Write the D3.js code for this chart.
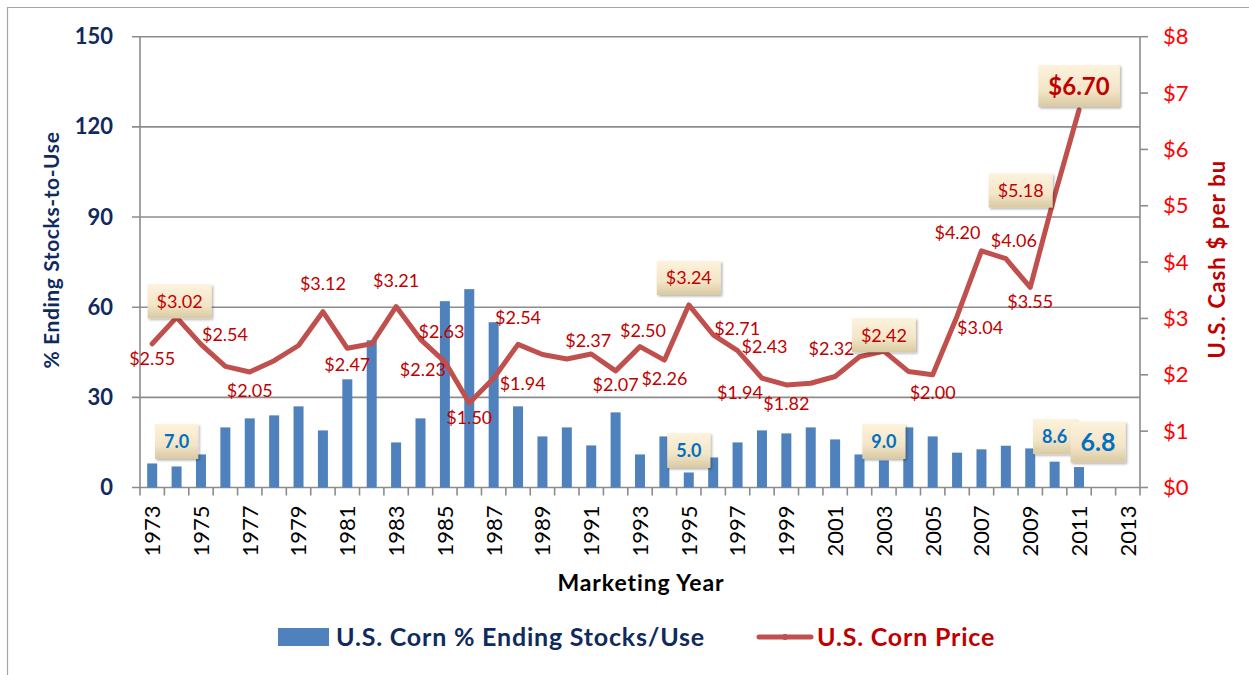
<!DOCTYPE html>
<html>
<head>
<meta charset="utf-8">
<script src="https://cdn.jsdelivr.net/npm/d3@7/dist/d3.min.js"></script>
<style>
  body { margin: 0; background: #fff; }
  svg { font-family: Lato, "Open Sans", sans-serif; }
</style>
</head>
<body>
<div id="chart"></div>
<script>
// categories: marketing years shown on the axis
var years = [1973,1974,1975,1976,1977,1978,1979,1980,1981,1982,1983,1984,1985,1986,1987,
             1988,1989,1990,1991,1992,1993,1994,1995,1996,1997,1998,1999,2000,2001,2002,
             2003,2004,2005,2006,2007,2008,2009,2010,2011,2012,2013];

// years that actually have data
var dataYears = [1973,1974,1975,1976,1977,1978,1979,1980,1981,1982,1983,1984,1985,1986,1987,
                 1988,1989,1990,1991,1992,1993,1994,1995,1996,1997,1998,1999,2000,2001,2002,
                 2003,2004,2005,2006,2007,2008,2009,2010,2011];

// % ending stocks-to-use (bars, left axis)
var stocksToUse = [8,7,11,20,23,24,27,19,36,49,15,23,62,66,55,
                   27,17,20,14,25,11,17,5,10,15,19,18,20,16,11,
                   9,20,17,11.6,12.7,13.9,13,8.6,6.8];

// corn price $/bu (line, right axis)
var cornPrice = [2.55,3.02,2.54,2.15,2.05,2.25,2.52,3.12,2.47,2.55,3.21,2.63,2.23,1.50,1.94,
                 2.54,2.36,2.28,2.37,2.07,2.50,2.26,3.24,2.71,2.43,1.94,1.82,1.85,1.97,2.32,
                 2.42,2.06,2.00,3.04,4.20,4.06,3.55,5.18,6.70];

var leftTicks = [0,30,60,90,120,150];
var rightTicks = [0,1,2,3,4,5,6,7,8];
var xTickYears = [1973,1975,1977,1979,1981,1983,1985,1987,1989,1991,1993,1995,1997,1999,
                  2001,2003,2005,2007,2009,2011,2013];

// which points get a price label, and where the label sits relative to the point
var priceLabelYears = [1973,1974,1975,1977,1980,1981,1983,1984,1985,1986,1987,1988,1991,1992,
                       1993,1994,1995,1996,1997,1998,1999,2002,2003,2005,2006,2007,2008,2009,2010,2011];
var priceLabelDx = [0,3,24,0,0,0,0,21,-22,0,29,0,-3,0,3,0,0,24,27,-22,0,-28,0,0,23,-24,8,0,-34,0];
var priceLabelDy = [15,-16,-10,19,-28,16,-26,-8,8,15,5,-27,-13,14,-16,18,-27,-6,-4,14,19,-8,-16,18,11,-18,-18,14,-5,-24];
var priceBoxed = [1974,1995,2003,2010,2011];

var stockLabelYears = [1974,1995,2003,2010,2011];
var stockLabelDx = [0,0,0,0,19];
var stockLabelDy = [-25,-22,-19,-25,-25];

var W = 1249, H = 675;
var plot = {left: 140, right: 1140, top: 36.7, bottom: 487.5};

var svg = d3.select("#chart").append("svg")
    .attr("width", W)
    .attr("height", H);

var defs = svg.append("defs");
var grad = defs.append("linearGradient")
    .attr("id", "boxgrad").attr("x1", 0).attr("y1", 0).attr("x2", 0).attr("y2", 1);
grad.append("stop").attr("offset", "0%").attr("stop-color", "#fdf2dd");
grad.append("stop").attr("offset", "60%").attr("stop-color", "#f3e5c6");
grad.append("stop").attr("offset", "100%").attr("stop-color", "#d9c9a3");
var shadow = defs.append("filter").attr("id", "shadow")
    .attr("x", "-20%").attr("y", "-20%").attr("width", "150%").attr("height", "150%");
shadow.append("feDropShadow")
    .attr("dx", 1.5).attr("dy", 1.5).attr("stdDeviation", 1.2)
    .attr("flood-color", "#000").attr("flood-opacity", 0.3);

// outer chart border
svg.append("path")
    .attr("d", "M7.5," + H + "V7.5H" + W)
    .attr("fill", "none")
    .attr("stroke", "#a6a6a6")
    .attr("stroke-width", 1.2);

// scales
var x = d3.scaleBand()
    .domain(years)
    .range([plot.left, plot.right])
    .paddingInner(0.59)
    .paddingOuter(0.295);

var xCat = d3.scaleBand()
    .domain(years)
    .range([plot.left, plot.right])
    .padding(0);

var yLeft = d3.scaleLinear()
    .domain([0, 150])
    .range([plot.bottom, plot.top]);

var yRight = d3.scaleLinear()
    .domain([0, 8])
    .range([plot.bottom, plot.top]);

function cx(yr) { return x(yr) + x.bandwidth() / 2; }

// gridlines (left axis)
svg.append("g")
    .selectAll("line")
    .data(leftTicks)
    .enter().append("line")
    .attr("x1", plot.left - 8)
    .attr("x2", plot.right)
    .attr("y1", d => yLeft(d))
    .attr("y2", d => yLeft(d))
    .attr("stroke", "#8c8c8c")
    .attr("stroke-width", 1.6);

// bars
var stockData = dataYears.map((y, i) => ({year: y, value: stocksToUse[i]}));
svg.append("g")
    .selectAll("rect")
    .data(stockData)
    .enter().append("rect")
    .attr("x", d => x(d.year))
    .attr("width", x.bandwidth())
    .attr("y", d => yLeft(d.value))
    .attr("height", d => yLeft(0) - yLeft(d.value))
    .attr("fill", "#4f81bd");

// axis lines
svg.append("line")
    .attr("x1", plot.left).attr("x2", plot.left)
    .attr("y1", plot.top).attr("y2", plot.bottom)
    .attr("stroke", "#8c8c8c").attr("stroke-width", 1.6);
svg.append("line")
    .attr("x1", plot.right).attr("x2", plot.right)
    .attr("y1", plot.top).attr("y2", plot.bottom)
    .attr("stroke", "#8c8c8c").attr("stroke-width", 1.6);

// x tick marks at category boundaries
var boundaries = years.map(y => xCat(y)).concat([plot.right]);
svg.append("g")
    .selectAll("line")
    .data(boundaries)
    .enter().append("line")
    .attr("x1", d => d).attr("x2", d => d)
    .attr("y1", plot.bottom).attr("y2", plot.bottom + 8)
    .attr("stroke", "#8c8c8c").attr("stroke-width", 1.6);

// right tick marks
svg.append("g")
    .selectAll("line")
    .data(rightTicks)
    .enter().append("line")
    .attr("x1", plot.right).attr("x2", plot.right + 8)
    .attr("y1", d => yRight(d)).attr("y2", d => yRight(d))
    .attr("stroke", "#8c8c8c").attr("stroke-width", 1.6);

// left axis labels
var leftAxis = svg.append("g")
    .attr("transform", "translate(" + (plot.left - 24) + ",0)")
    .call(d3.axisLeft(yLeft).tickValues(leftTicks).tickSize(0));
leftAxis.select(".domain").remove();
leftAxis.selectAll("text")
    .attr("fill", "#0f2a5e")
    .style("font-size", "22px")
    .style("font-weight", "bold")
    .style("font-family", "Lato, sans-serif");

// right axis labels
var rightAxis = svg.append("g")
    .attr("transform", "translate(" + (plot.right + 20) + ",0)")
    .call(d3.axisRight(yRight).tickValues(rightTicks).tickSize(0).tickFormat(d => "$" + d));
rightAxis.select(".domain").remove();
rightAxis.selectAll("text")
    .attr("fill", "#ff0000")
    .style("font-size", "22px")
    .style("font-family", "Lato, sans-serif");

// x axis labels (odd years, rotated)
var xAxis = svg.append("g")
    .attr("transform", "translate(0," + plot.bottom + ")")
    .call(d3.axisBottom(x).tickValues(xTickYears).tickSize(0));
xAxis.select(".domain").remove();
xAxis.selectAll("text")
    .attr("fill", "#000")
    .style("font-size", "22px")
    .style("font-family", "Lato, sans-serif")
    .attr("text-anchor", "end")
    .attr("transform", "rotate(-90)")
    .attr("x", -18)
    .attr("y", 0)
    .attr("dy", "0.36em");

// axis titles
svg.append("text")
    .attr("transform", "translate(59,250) rotate(-90)")
    .attr("text-anchor", "middle")
    .attr("fill", "#0f2a5e")
    .style("font-size", "21px")
    .style("font-weight", "bold")
    .style("letter-spacing", "0.6px")
    .text("% Ending Stocks-to-Use");

svg.append("text")
    .attr("transform", "translate(1225,259) rotate(-90)")
    .attr("text-anchor", "middle")
    .attr("fill", "#c00000")
    .style("font-size", "22px")
    .style("font-weight", "bold")
    .style("letter-spacing", "1.2px")
    .text("U.S. Cash $ per bu");

svg.append("text")
    .attr("x", 641).attr("y", 591)
    .attr("text-anchor", "middle")
    .attr("fill", "#000")
    .style("font-size", "23px")
    .style("font-weight", "bold")
    .style("letter-spacing", "0.9px")
    .text("Marketing Year");

// price line
var priceData = dataYears.map((y, i) => ({year: y, value: cornPrice[i]}));
var line = d3.line()
    .x(d => cx(d.year))
    .y(d => yRight(d.value));

svg.append("path")
    .datum(priceData)
    .attr("d", line)
    .attr("fill", "none")
    .attr("stroke", "#c0504d")
    .attr("stroke-width", 5)
    .attr("stroke-linejoin", "round")
    .attr("stroke-linecap", "round");

// label helper: text with optional beige box behind
function addLabel(g, px, py, txt, opts) {
  var grp = g.append("g");
  var t = grp.append("text")
      .attr("x", px).attr("y", py)
      .attr("dy", "0.36em")
      .attr("text-anchor", "middle")
      .attr("fill", opts.color)
      .style("font-size", opts.size + "px")
      .style("font-weight", opts.bold ? "bold" : "normal")
      .text(txt);
  if (opts.box) {
    var bb = t.node().getBBox();
    grp.insert("rect", "text")
        .attr("x", bb.x - opts.padX)
        .attr("y", py - opts.boxH / 2)
        .attr("width", bb.width + 2 * opts.padX)
        .attr("height", opts.boxH)
        .attr("fill", "url(#boxgrad)")
        .attr("filter", "url(#shadow)");
  }
}

var labels = svg.append("g");

priceLabelYears.forEach(function(yr, i) {
  var idx = dataYears.indexOf(yr);
  var v = cornPrice[idx];
  var big = yr === 2011;
  addLabel(labels, cx(yr) + priceLabelDx[i], yRight(v) + priceLabelDy[i], "$" + v.toFixed(2), {
    color: "#c00000",
    size: big ? 24 : 18,
    bold: big,
    box: priceBoxed.indexOf(yr) >= 0,
    padX: big ? 10 : 9,
    boxH: big ? 42 : 34
  });
});

stockLabelYears.forEach(function(yr, i) {
  var idx = dataYears.indexOf(yr);
  var v = stocksToUse[idx];
  var big = yr === 2011;
  addLabel(labels, cx(yr) + stockLabelDx[i], yLeft(v) + stockLabelDy[i], v.toFixed(1), {
    color: "#0070c0",
    size: big ? 25 : 18,
    bold: true,
    box: true,
    padX: big ? 10 : 9,
    boxH: big ? 41 : 35
  });
});

// legend
var legend = svg.append("g");
legend.append("rect")
    .attr("x", 278).attr("y", 628)
    .attr("width", 51).attr("height", 18)
    .attr("fill", "#4f81bd");
legend.append("text")
    .attr("x", 336).attr("y", 637)
    .attr("dy", "0.36em")
    .attr("fill", "#0f2a5e")
    .style("font-size", "25px")
    .style("font-weight", "bold")
    .style("letter-spacing", "0.8px")
    .text("U.S. Corn % Ending Stocks/Use");
legend.append("line")
    .attr("x1", 759).attr("x2", 811)
    .attr("y1", 637).attr("y2", 637)
    .attr("stroke", "#c0504d")
    .attr("stroke-width", 5)
    .attr("stroke-linecap", "round");
legend.append("circle")
    .attr("cx", 785).attr("cy", 637).attr("r", 3)
    .attr("fill", "#c0504d");
legend.append("text")
    .attr("x", 817).attr("y", 637)
    .attr("dy", "0.36em")
    .attr("fill", "#c00000")
    .style("font-size", "25px")
    .style("font-weight", "bold")
    .style("letter-spacing", "0.8px")
    .text("U.S. Corn Price");
</script>
</body>
</html>
